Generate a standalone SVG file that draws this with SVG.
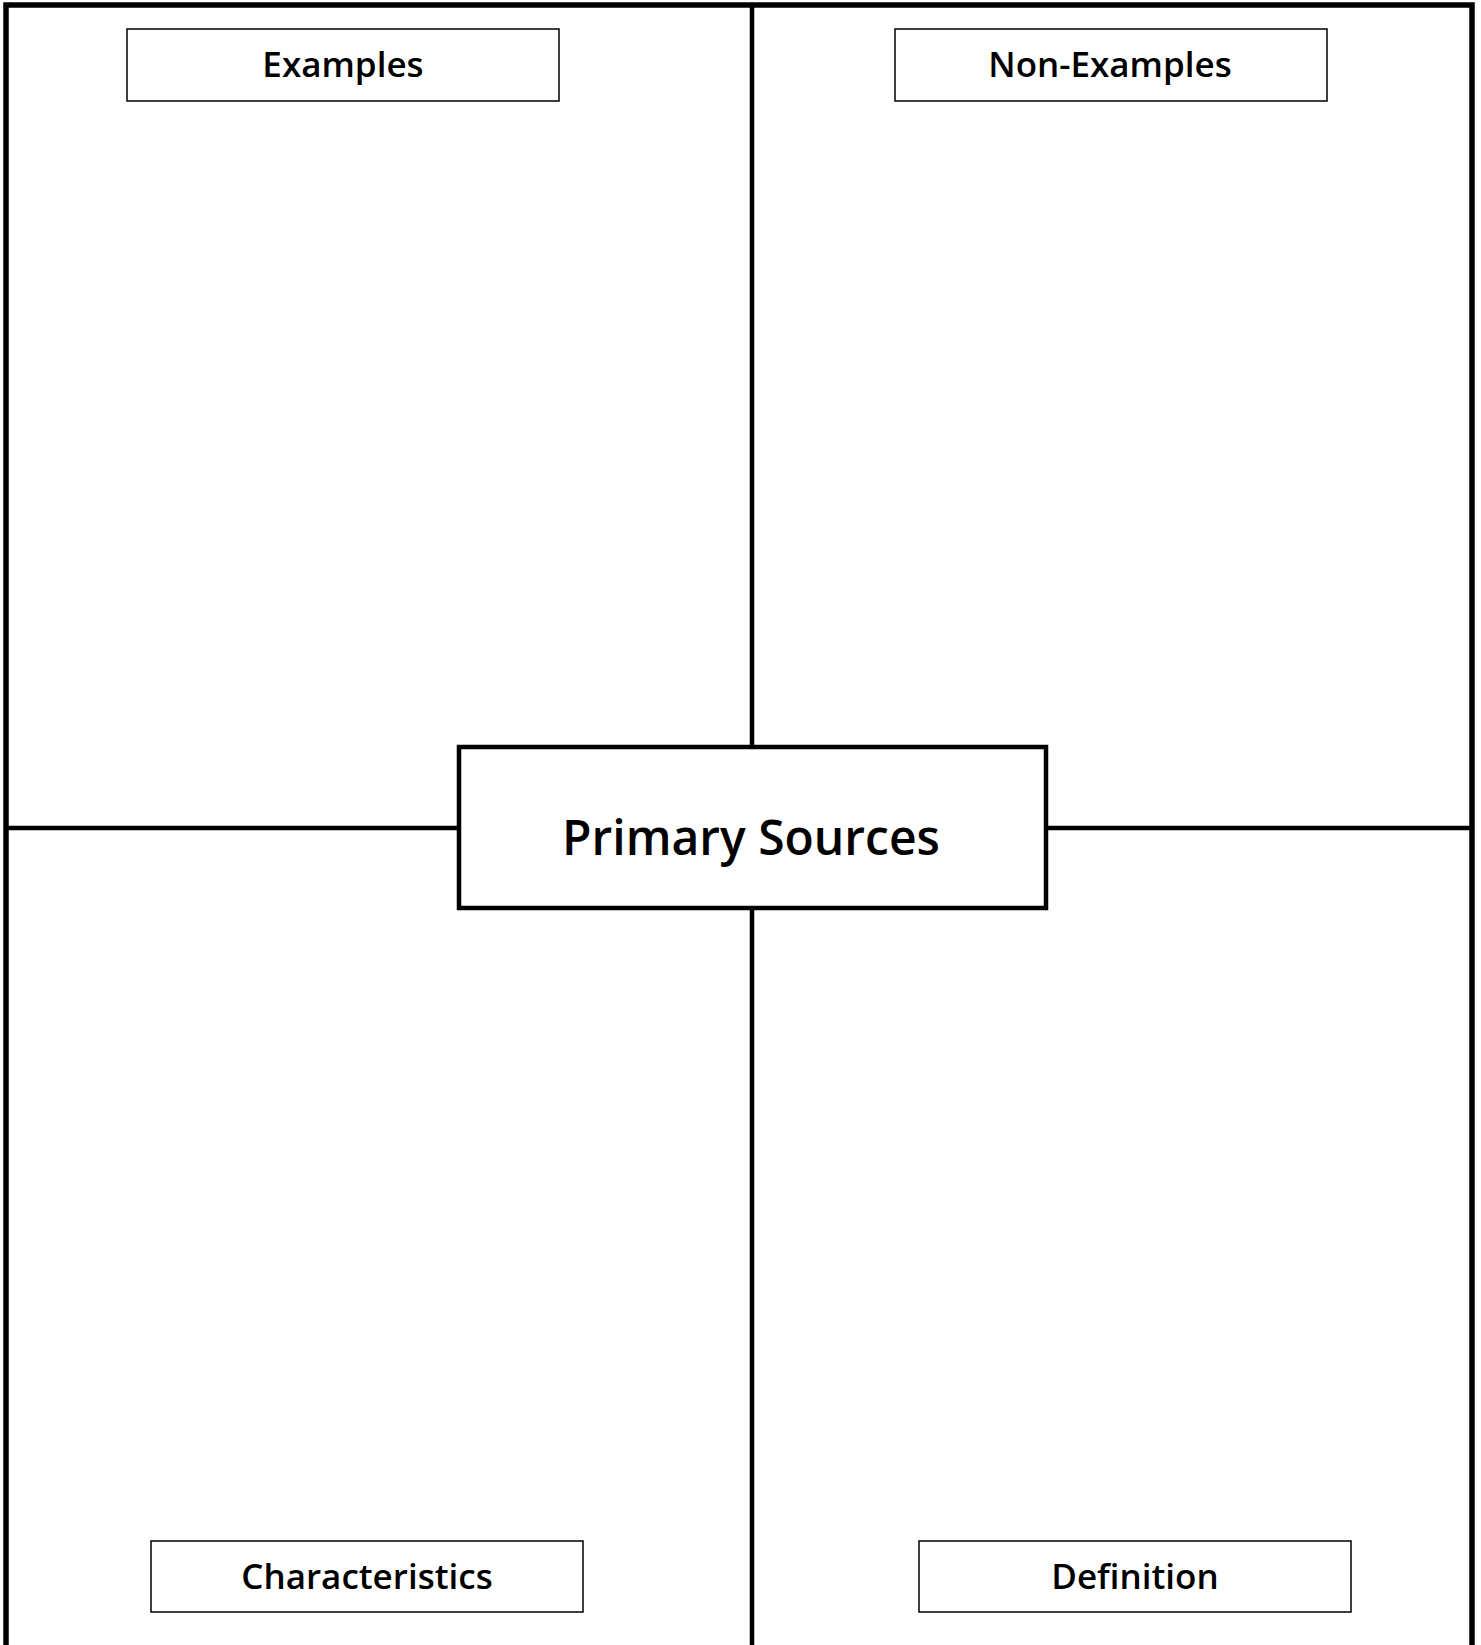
<svg xmlns="http://www.w3.org/2000/svg" width="1481" height="1645" viewBox="0 0 1481 1645">
<style>
.frame{fill:none;stroke:#000;stroke-width:5.5}
.conn{stroke:#000;stroke-width:4.5;fill:none}
.lbl{fill:#fff;stroke:#000;stroke-width:1.5}
.center{fill:#fff;stroke:#000;stroke-width:4.5}
text{font-family:"Open Sans","DejaVu Sans",sans-serif;font-weight:600;fill:#000;text-anchor:middle}
.t{font-size:35px}
.tc{font-size:48px}
</style>
<rect width="1481" height="1645" fill="#fff"/>
<rect class="frame" x="6" y="5" width="1466" height="1660"/>
<g id="connectors">
<line class="conn" x1="752" y1="5" x2="752" y2="747"/>
<line class="conn" x1="752" y1="908" x2="752" y2="1645"/>
<line class="conn" x1="6" y1="828" x2="458" y2="828"/>
<line class="conn" x1="1046" y1="828" x2="1472" y2="828"/>
</g>
<g id="center">
<rect class="center" x="459" y="747" width="587" height="161"/>
<text class="tc" x="751" y="855">Primary Sources</text>
</g>
<g id="examples">
<rect class="lbl" x="127" y="29" width="432" height="72"/>
<text class="t" x="343" y="77">Examples</text>
</g>
<g id="non-examples">
<rect class="lbl" x="895" y="29" width="432" height="72"/>
<text class="t" x="1110" y="77">Non-Examples</text>
</g>
<g id="characteristics">
<rect class="lbl" x="151" y="1541" width="432" height="71"/>
<text class="t" x="367" y="1589">Characteristics</text>
</g>
<g id="definition">
<rect class="lbl" x="919" y="1541" width="432" height="71"/>
<text class="t" x="1135" y="1589">Definition</text>
</g>
</svg>
